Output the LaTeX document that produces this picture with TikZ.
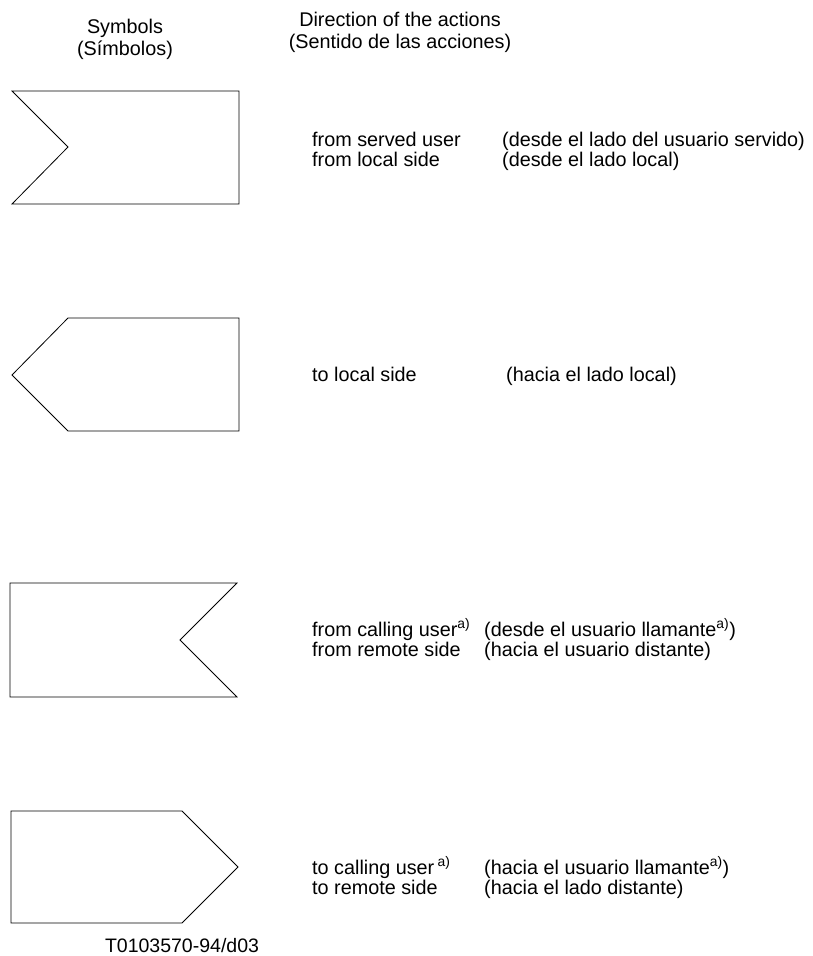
\documentclass[tikz,border=0pt]{standalone}
\usepackage{fontspec}
\setmainfont{Liberation Sans}
\tikzset{sym/.style={draw, line width=0.8pt, line join=miter}}
\tikzset{txt/.style={anchor=base west, align=left, inner sep=0pt, font=\fontsize{19.8}{20}\selectfont}}
\tikzset{head/.style={anchor=base, align=center, inner sep=0pt, font=\fontsize{19.8}{21.5}\selectfont}}

\begin{document}
\begin{tikzpicture}[x=1pt, y=-1pt]
		\useasboundingbox (0,0) rectangle (813,956);
		\node[head] (symhead) at (125,55) {Symbols\\(Símbolos)};
		\node[head] (dirhead) at (400,48) {Direction of the actions\\(Sentido de las acciones)};
		% symbols
		\draw[sym] (12,91) -- (239,91) -- (239,204) -- (12,204) -- (68,147) -- cycle;
		\draw[sym] (12,375) -- (68,318) -- (239,318) -- (239,431) -- (68,431) -- cycle;
		\draw[sym] (10,583) -- (237,583) -- (180,640) -- (237,697) -- (10,697) -- cycle;
		\draw[sym] (11,811) -- (182,811) -- (238,867) -- (182,923) -- (11,923) -- cycle;
		% texts (base = last line)
		\node[txt] (en1) at (312,166) {from served user\\from local side};
		\node[txt] (es1) at (502,166) {(desde el lado del usuario servido)\\(desde el lado local)};
		\node[txt] (en2) at (312,381) {to local side};
		\node[txt] (es2) at (506,381) {(hacia el lado local)};
		\node[txt] (en3) at (312,656) {from calling user\textsuperscript{a)}\\from remote side};
		\node[txt] (es3) at (484,656) {(desde el usuario llamante\textsuperscript{a)})\\(hacia el usuario distante)};
		\node[txt] (en4) at (312,894) {to calling user\,\textsuperscript{a)}\\to remote side};
		\node[txt] (es4) at (484,894) {(hacia el usuario llamante\textsuperscript{a)})\\(hacia el lado distante)};
		\node[anchor=base, inner sep=0pt, font=\fontsize{19.5}{20}\selectfont] (code) at (182,952) {T0103570-94/d03};
\end{tikzpicture}
\end{document}
